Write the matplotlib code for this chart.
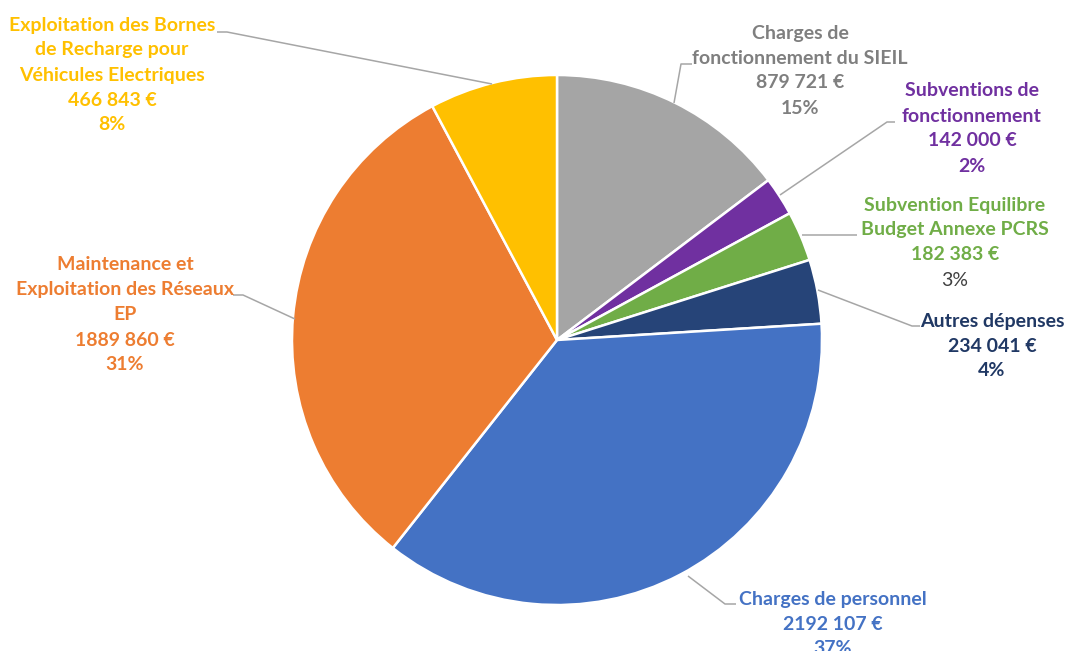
import matplotlib.pyplot as plt

# budget lines, clockwise from the top
labels = [
    ["Charges de", "fonctionnement du SIEIL"],
    ["Subventions de", "fonctionnement"],
    ["Subvention Equilibre", "Budget Annexe PCRS"],
    ["Autres dépenses"],
    ["Charges de personnel"],
    ["Maintenance et", "Exploitation des Réseaux", "EP"],
    ["Exploitation des Bornes", "de Recharge pour", "Véhicules Electriques"],
]
values = [879721, 142000, 182383, 234041, 2192107, 1889860, 466843]
amounts = ["879 721 €", "142 000 €", "182 383 €", "234 041 €",
           "2192 107 €", "1889 860 €", "466 843 €"]
percents = ["15%", "2%", "3%", "4%", "37%", "31%", "8%"]

slice_cols = ['#A5A5A5', '#7030A0', '#70AD47', '#264478',
              '#4472C4', '#ED7D31', '#FFC000']
text_cols = ['#7F7F7F', '#7030A0', '#70AD47', '#203864',
             '#4472C4', '#ED7D31', '#FFC000']

W, H = 1072, 651
plt.rcParams['font.family'] = ['Lato', 'DejaVu Sans']

fig = plt.figure(figsize=(W / 100, H / 100), dpi=100)
ax = fig.add_axes([0, 0, 1, 1])

def Y(y):
    # pixel rows are counted from the top in the reference
    return H - y

ax.pie(values, colors=slice_cols, startangle=90, counterclock=False,
       center=(557, Y(340)), radius=265, frame=True,
       wedgeprops=dict(edgecolor='white', linewidth=1.8))
ax.set_xlim(0, W)
ax.set_ylim(0, H)
ax.set_aspect('equal')
ax.axis('off')

# label anchor (centre x, first line y) and leader line points
layout = [
    (800, 33, [(674, 103), (681, 64), (692, 64)]),
    (972, 91, [(780, 195), (887, 122), (895, 122)]),
    (955, 205, [(802, 235), (857, 235)]),
    (992, 321, [(818, 290), (912, 326), (920, 326)]),
    (833, 599, [(688, 576), (725, 604), (736, 604)]),
    (125, 265, [(295, 319), (243, 295), (233, 295)]),
    (112, 25, [(492, 84), (227, 32), (217, 32)]),
]

step = 25
for i, (cx, y0, pts) in enumerate(layout):
    xs = [p[0] for p in pts]
    ys = [Y(p[1]) for p in pts]
    ax.plot(xs, ys, color='#A6A6A6', lw=1.1, solid_capstyle='butt')
    lines = labels[i] + [amounts[i], percents[i]]
    for k, s in enumerate(lines):
        col = text_cols[i]
        wt = 'bold'
        if i == 2 and k == len(lines) - 1:
            col = '#404040'
            wt = 'normal'
        ax.text(cx, Y(y0 + k * step), s, color=col, fontsize=14,
                fontweight=wt, ha='center', va='center')

fig.savefig('out.png', dpi=100, facecolor='white')
